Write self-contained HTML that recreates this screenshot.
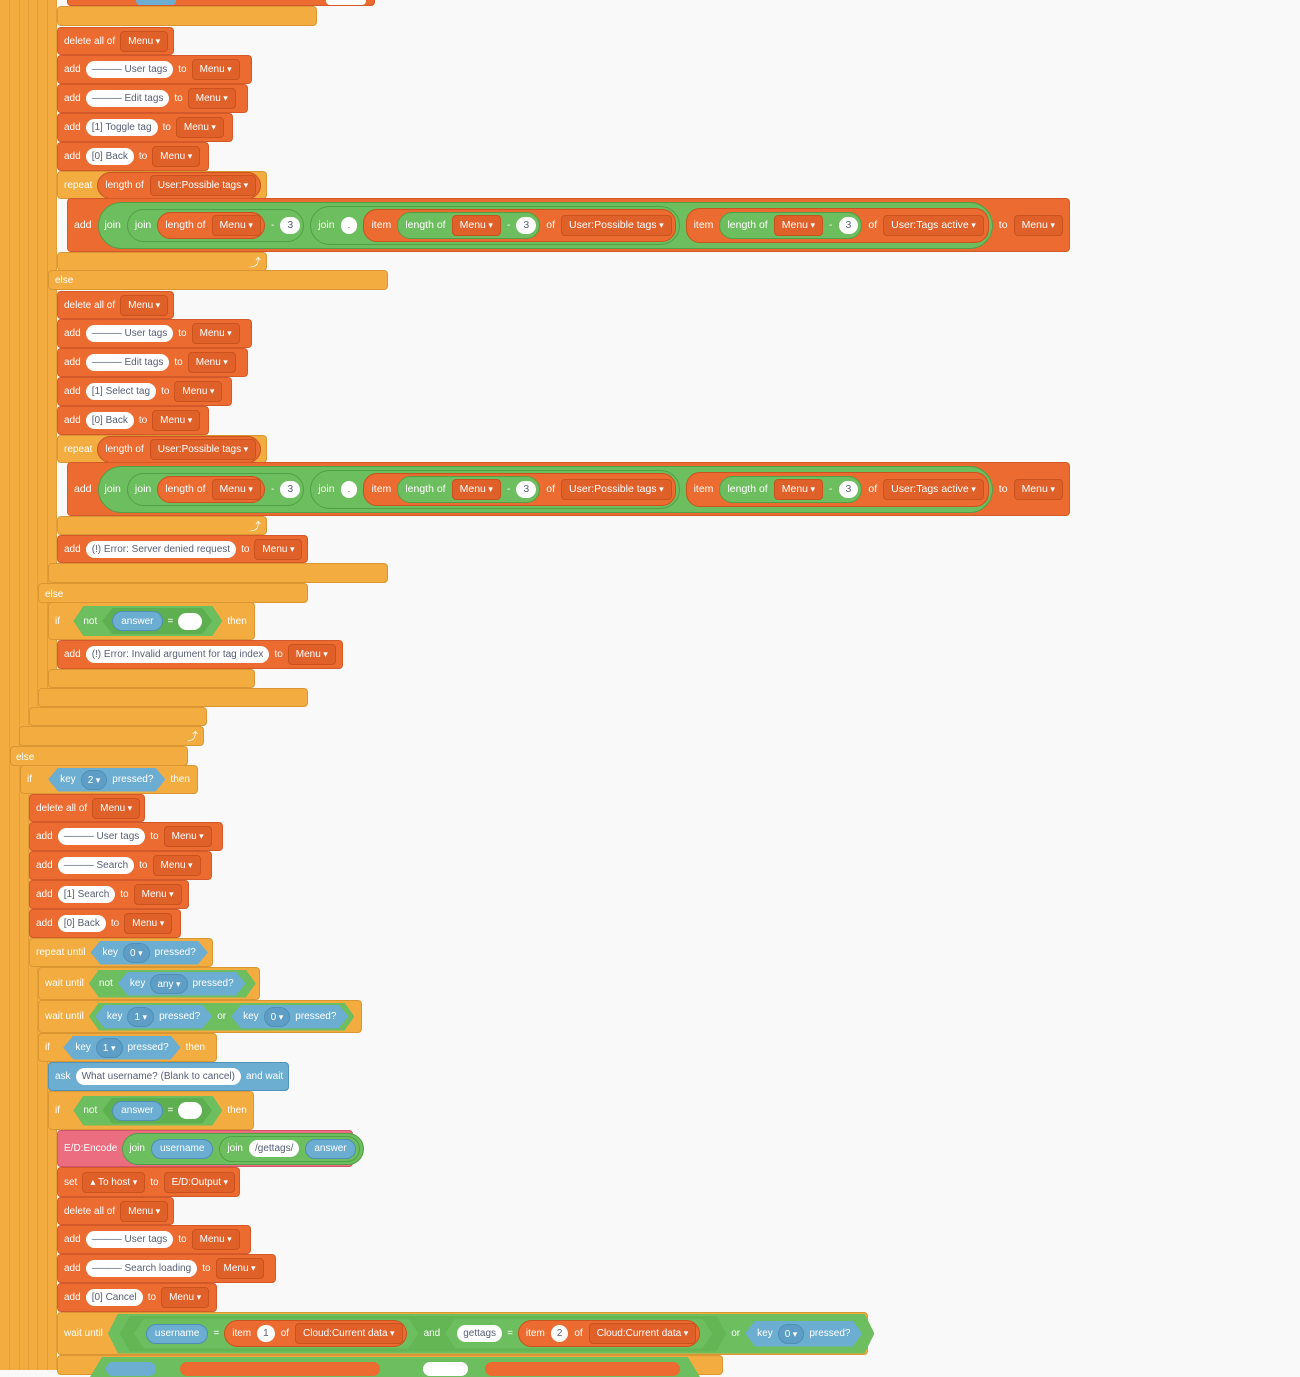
<!DOCTYPE html>
<html><head><meta charset="utf-8">
<style>
body{margin:0;width:1300px;height:1370px;overflow:hidden;background:#f9f9f9;font-family:"Liberation Sans",sans-serif;position:relative}
.b{position:absolute;display:flex;align-items:center;gap:5px;padding:0 6px;box-sizing:border-box;color:#fff;font-size:10px;white-space:nowrap;border-radius:4px}
.L{background:#EC6B30;border:1px solid #D4592A}
.C{background:#F3AC40;border:1px solid #DA9632}
.B{background:#6CADD2;border:1px solid #5393B8}
.P{background:#EC6D80;border:1px solid #D35568}
.p{background:#fff;color:#575E75;border-radius:10px;height:17px;line-height:17px;padding:0 6px;flex:none}
.d{background:#E0602A;border:1px solid #C9521E;border-radius:4px;height:19px;line-height:19px;padding:0 7px;flex:none;color:#fff}
.d:after{content:" ▾";font-size:9px}
.o{background:#EC6B30;border:1px solid #C9521E;border-radius:14px;display:flex;align-items:center;gap:6px;padding:2px 3px 2px 7px;flex:none}
.g{background:#6DBE5E;border:1px solid #519F47;border-radius:26px;display:flex;align-items:center;gap:6px;padding:2px 3px 2px 7px;flex:none}
.bl{background:#6CADD2;border:1px solid #4F8FB5;border-radius:11px;height:20px;display:flex;align-items:center;padding:0 8px;flex:none;box-sizing:border-box}
.bd{background:#5E9EC6;border:1px solid #4F8FB5;border-radius:10px;height:18px;line-height:18px;padding:0 6px;flex:none}
.bd:after{content:" ▾";font-size:9px}
.hx{display:flex;align-items:center;gap:5px;padding:0 12px;flex:none;clip-path:polygon(10px 0,calc(100% - 10px) 0,100% 50%,calc(100% - 10px) 100%,10px 100%,0 50%)}
.hg{background:#6DBE5E}
.hb{background:#6CADD2}
.col{position:absolute;top:0;background:#F3AC40;border-right:1px solid #E29F38;box-sizing:border-box}
.ar{position:absolute;color:#fff;font-size:11px}
.big{font-size:10.5px;gap:6px}
.big .g,.big .o{gap:6px}
.big .d{padding:0 7px}
.big .p{padding:0 7px}
</style></head><body>
<div class="col" style="left:0;width:10px;height:1370px"></div>
<div class="col" style="left:10px;width:10px;height:1370px"></div>
<div class="col" style="left:20px;width:9px;height:1370px"></div>
<div class="col" style="left:29px;width:9px;height:1370px"></div>
<div class="col" style="left:38px;width:10px;height:1370px"></div>
<div class="col" style="left:48px;width:9px;height:1370px"></div>

<!-- top -->
<div class="b L" style="left:67px;top:-4px;width:308px;height:10px"><span style="position:absolute;left:68px;top:0;width:40px;height:8px;background:#6CADD2;border-radius:6px"></span><span style="position:absolute;left:258px;top:0;width:40px;height:8px;background:#fff;border-radius:4px"></span></div>
<div class="b C" style="left:57px;top:6px;width:260px;height:20px"></div>

<div class="b L" style="left:57px;top:27px;width:117px;height:28px">delete all of <span class="d">Menu</span></div>
<div class="b L" style="left:57px;top:55px;width:195px;height:29px">add <span class="p">——— User tags</span> to <span class="d">Menu</span></div>
<div class="b L" style="left:57px;top:84px;width:191px;height:29px">add <span class="p">——— Edit tags</span> to <span class="d">Menu</span></div>
<div class="b L" style="left:57px;top:113px;width:176px;height:29px">add <span class="p">[1] Toggle tag</span> to <span class="d">Menu</span></div>
<div class="b L" style="left:57px;top:142px;width:152px;height:29px">add <span class="p">[0] Back</span> to <span class="d">Menu</span></div>
<div class="b C" style="left:57px;top:171px;width:210px;height:28px">repeat <span class="o" style="padding-right:4px">length of <span class="d">User:Possible tags</span></span></div>
<div class="b L big" style="left:67px;top:198px;width:1003px;height:54px">add
 <span class="g" style="padding:3px 3px 3px 6px">join
  <span class="g">join <span class="o">length of <span class="d">Menu</span></span> - <span class="p">3</span></span>
  <span class="g">join <span class="p">.</span>
   <span class="o">item <span class="g">length of <span class="d">Menu</span> - <span class="p">3</span></span> of <span class="d">User:Possible tags</span></span>
  </span>
  <span class="o" style="padding:3px 4px 3px 7px">item <span class="g">length of <span class="d">Menu</span> - <span class="p">3</span></span> of <span class="d">User:Tags active</span></span>
 </span> to <span class="d">Menu</span></div>
<div class="b C" style="left:57px;top:252px;width:210px;height:19px"></div><div class="ar" style="left:250px;top:254px">⤴</div>
<div class="b C" style="left:48px;top:270px;width:340px;height:20px;align-items:flex-end;padding-bottom:3px">else</div>

<div class="b L" style="left:57px;top:291px;width:117px;height:28px">delete all of <span class="d">Menu</span></div>
<div class="b L" style="left:57px;top:319px;width:195px;height:29px">add <span class="p">——— User tags</span> to <span class="d">Menu</span></div>
<div class="b L" style="left:57px;top:348px;width:191px;height:29px">add <span class="p">——— Edit tags</span> to <span class="d">Menu</span></div>
<div class="b L" style="left:57px;top:377px;width:175px;height:29px">add <span class="p">[1] Select tag</span> to <span class="d">Menu</span></div>
<div class="b L" style="left:57px;top:406px;width:152px;height:29px">add <span class="p">[0] Back</span> to <span class="d">Menu</span></div>
<div class="b C" style="left:57px;top:435px;width:210px;height:28px">repeat <span class="o" style="padding-right:4px">length of <span class="d">User:Possible tags</span></span></div>
<div class="b L big" style="left:67px;top:462px;width:1003px;height:54px">add
 <span class="g" style="padding:3px 3px 3px 6px">join
  <span class="g">join <span class="o">length of <span class="d">Menu</span></span> - <span class="p">3</span></span>
  <span class="g">join <span class="p">.</span>
   <span class="o">item <span class="g">length of <span class="d">Menu</span> - <span class="p">3</span></span> of <span class="d">User:Possible tags</span></span>
  </span>
  <span class="o" style="padding:3px 4px 3px 7px">item <span class="g">length of <span class="d">Menu</span> - <span class="p">3</span></span> of <span class="d">User:Tags active</span></span>
 </span> to <span class="d">Menu</span></div>
<div class="b C" style="left:57px;top:516px;width:210px;height:19px"></div><div class="ar" style="left:250px;top:518px">⤴</div>
<div class="b L" style="left:57px;top:535px;width:251px;height:28px">add <span class="p">(!) Error: Server denied request</span> to <span class="d">Menu</span></div>
<div class="b C" style="left:48px;top:563px;width:340px;height:20px"></div>
<div class="b C" style="left:38px;top:583px;width:270px;height:20px;align-items:flex-end;padding-bottom:2px">else</div>
<div class="b C" style="left:48px;top:602px;width:207px;height:38px">if&nbsp;&nbsp;&nbsp; <span class="hx hg" style="height:30px;padding:0 10px">not <span class="hx" style="height:26px;background:#5EAF50;padding:0 10px"><span class="bl">answer</span> = <span class="p" style="width:12px"></span></span></span> then</div>
<div class="b L" style="left:57px;top:640px;width:286px;height:29px">add <span class="p">(!) Error: Invalid argument for tag index</span> to <span class="d">Menu</span></div>
<div class="b C" style="left:48px;top:669px;width:207px;height:19px"></div>
<div class="b C" style="left:38px;top:688px;width:270px;height:19px"></div>
<div class="b C" style="left:29px;top:707px;width:178px;height:19px"></div>
<div class="b C" style="left:19px;top:726px;width:185px;height:20px"></div><div class="ar" style="left:187px;top:728px">⤴</div>
<div class="b C" style="left:10px;top:746px;width:178px;height:20px;align-items:flex-end;padding-bottom:2px;padding-left:5px">else</div>

<div class="b C" style="left:20px;top:765px;width:178px;height:29px">if&nbsp;&nbsp;&nbsp;&nbsp; <span class="hx hb" style="height:24px">key <span class="bd">2</span> pressed?</span> then</div>
<div class="b L" style="left:29px;top:794px;width:116px;height:28px">delete all of <span class="d">Menu</span></div>
<div class="b L" style="left:29px;top:822px;width:194px;height:29px">add <span class="p">——— User tags</span> to <span class="d">Menu</span></div>
<div class="b L" style="left:29px;top:851px;width:183px;height:29px">add <span class="p">——— Search</span> to <span class="d">Menu</span></div>
<div class="b L" style="left:29px;top:880px;width:160px;height:29px">add <span class="p">[1] Search</span> to <span class="d">Menu</span></div>
<div class="b L" style="left:29px;top:909px;width:152px;height:29px">add <span class="p">[0] Back</span> to <span class="d">Menu</span></div>
<div class="b C" style="left:29px;top:938px;width:184px;height:29px">repeat until <span class="hx hb" style="height:24px">key <span class="bd">0</span> pressed?</span></div>
<div class="b C" style="left:38px;top:967px;width:222px;height:33px">wait until <span class="hx hg" style="height:28px;padding:0 10px">not <span class="hx hb" style="height:24px">key <span class="bd">any</span> pressed?</span></span></div>
<div class="b C" style="left:38px;top:1000px;width:324px;height:33px">wait until <span class="hx hg" style="height:28px;padding:0 6px"><span class="hx hb" style="height:24px">key <span class="bd">1</span> pressed?</span> or <span class="hx hb" style="height:24px">key <span class="bd">0</span> pressed?</span></span></div>
<div class="b C" style="left:38px;top:1033px;width:179px;height:29px">if&nbsp;&nbsp;&nbsp; <span class="hx hb" style="height:24px">key <span class="bd">1</span> pressed?</span> then</div>
<div class="b B" style="left:48px;top:1062px;width:241px;height:29px">ask <span class="p">What username? (Blank to cancel)</span> and wait</div>
<div class="b C" style="left:48px;top:1091px;width:206px;height:39px">if&nbsp;&nbsp;&nbsp; <span class="hx hg" style="height:30px;padding:0 10px">not <span class="hx" style="height:26px;background:#5EAF50;padding:0 10px"><span class="bl">answer</span> = <span class="p" style="width:12px"></span></span></span> then</div>
<div class="b P" style="left:57px;top:1130px;width:296px;height:37px">E/D:Encode <span class="g" style="padding:2px 3px 2px 6px">join <span class="bl">username</span> <span class="g">join <span class="p">/gettags/</span> <span class="bl">answer</span></span></span></div>
<div class="b L" style="left:57px;top:1167px;width:183px;height:30px">set <span class="d">▴ To host</span> to <span class="d" style="padding-right:6px">E/D:Output</span></div>
<div class="b L" style="left:57px;top:1197px;width:117px;height:28px">delete all of <span class="d">Menu</span></div>
<div class="b L" style="left:57px;top:1225px;width:194px;height:29px">add <span class="p">——— User tags</span> to <span class="d">Menu</span></div>
<div class="b L" style="left:57px;top:1254px;width:219px;height:29px">add <span class="p">——— Search loading</span> to <span class="d">Menu</span></div>
<div class="b L" style="left:57px;top:1283px;width:160px;height:29px">add <span class="p">[0] Cancel</span> to <span class="d">Menu</span></div>
<div class="b C" style="left:57px;top:1312px;width:811px;height:43px">wait until <span class="hx hg" style="height:40px;padding:0 12px"><span class="hx hg" style="height:36px;border:0;padding:0 14px;background:#64B554"><span class="hx hg" style="height:30px;padding:0 12px"><span class="bl">username</span> = <span class="o">item <span class="p">1</span> of <span class="d">Cloud:Current data</span></span></span> and <span class="hx hg" style="height:30px;padding:0 12px"><span class="p">gettags</span> = <span class="o">item <span class="p">2</span> of <span class="d">Cloud:Current data</span></span></span></span> or <span class="hx hb" style="height:26px">key <span class="bd">0</span> pressed?</span></span></div>
<div class="b C" style="left:57px;top:1355px;width:666px;height:20px"></div>
<div style="position:absolute;left:90px;top:1357px;width:610px;height:20px;background:#6DBE5E;clip-path:polygon(12px 0,98% 0,100% 100%,0 100%)"></div>
<div style="position:absolute;left:106px;top:1362px;width:50px;height:14px;background:#6CADD2;border-radius:8px"></div>
<div style="position:absolute;left:180px;top:1362px;width:200px;height:14px;background:#EC6B30;border-radius:8px"></div>
<div style="position:absolute;left:423px;top:1362px;width:45px;height:14px;background:#fff;border-radius:8px"></div>
<div style="position:absolute;left:485px;top:1362px;width:195px;height:14px;background:#EC6B30;border-radius:8px"></div>
</body></html>
